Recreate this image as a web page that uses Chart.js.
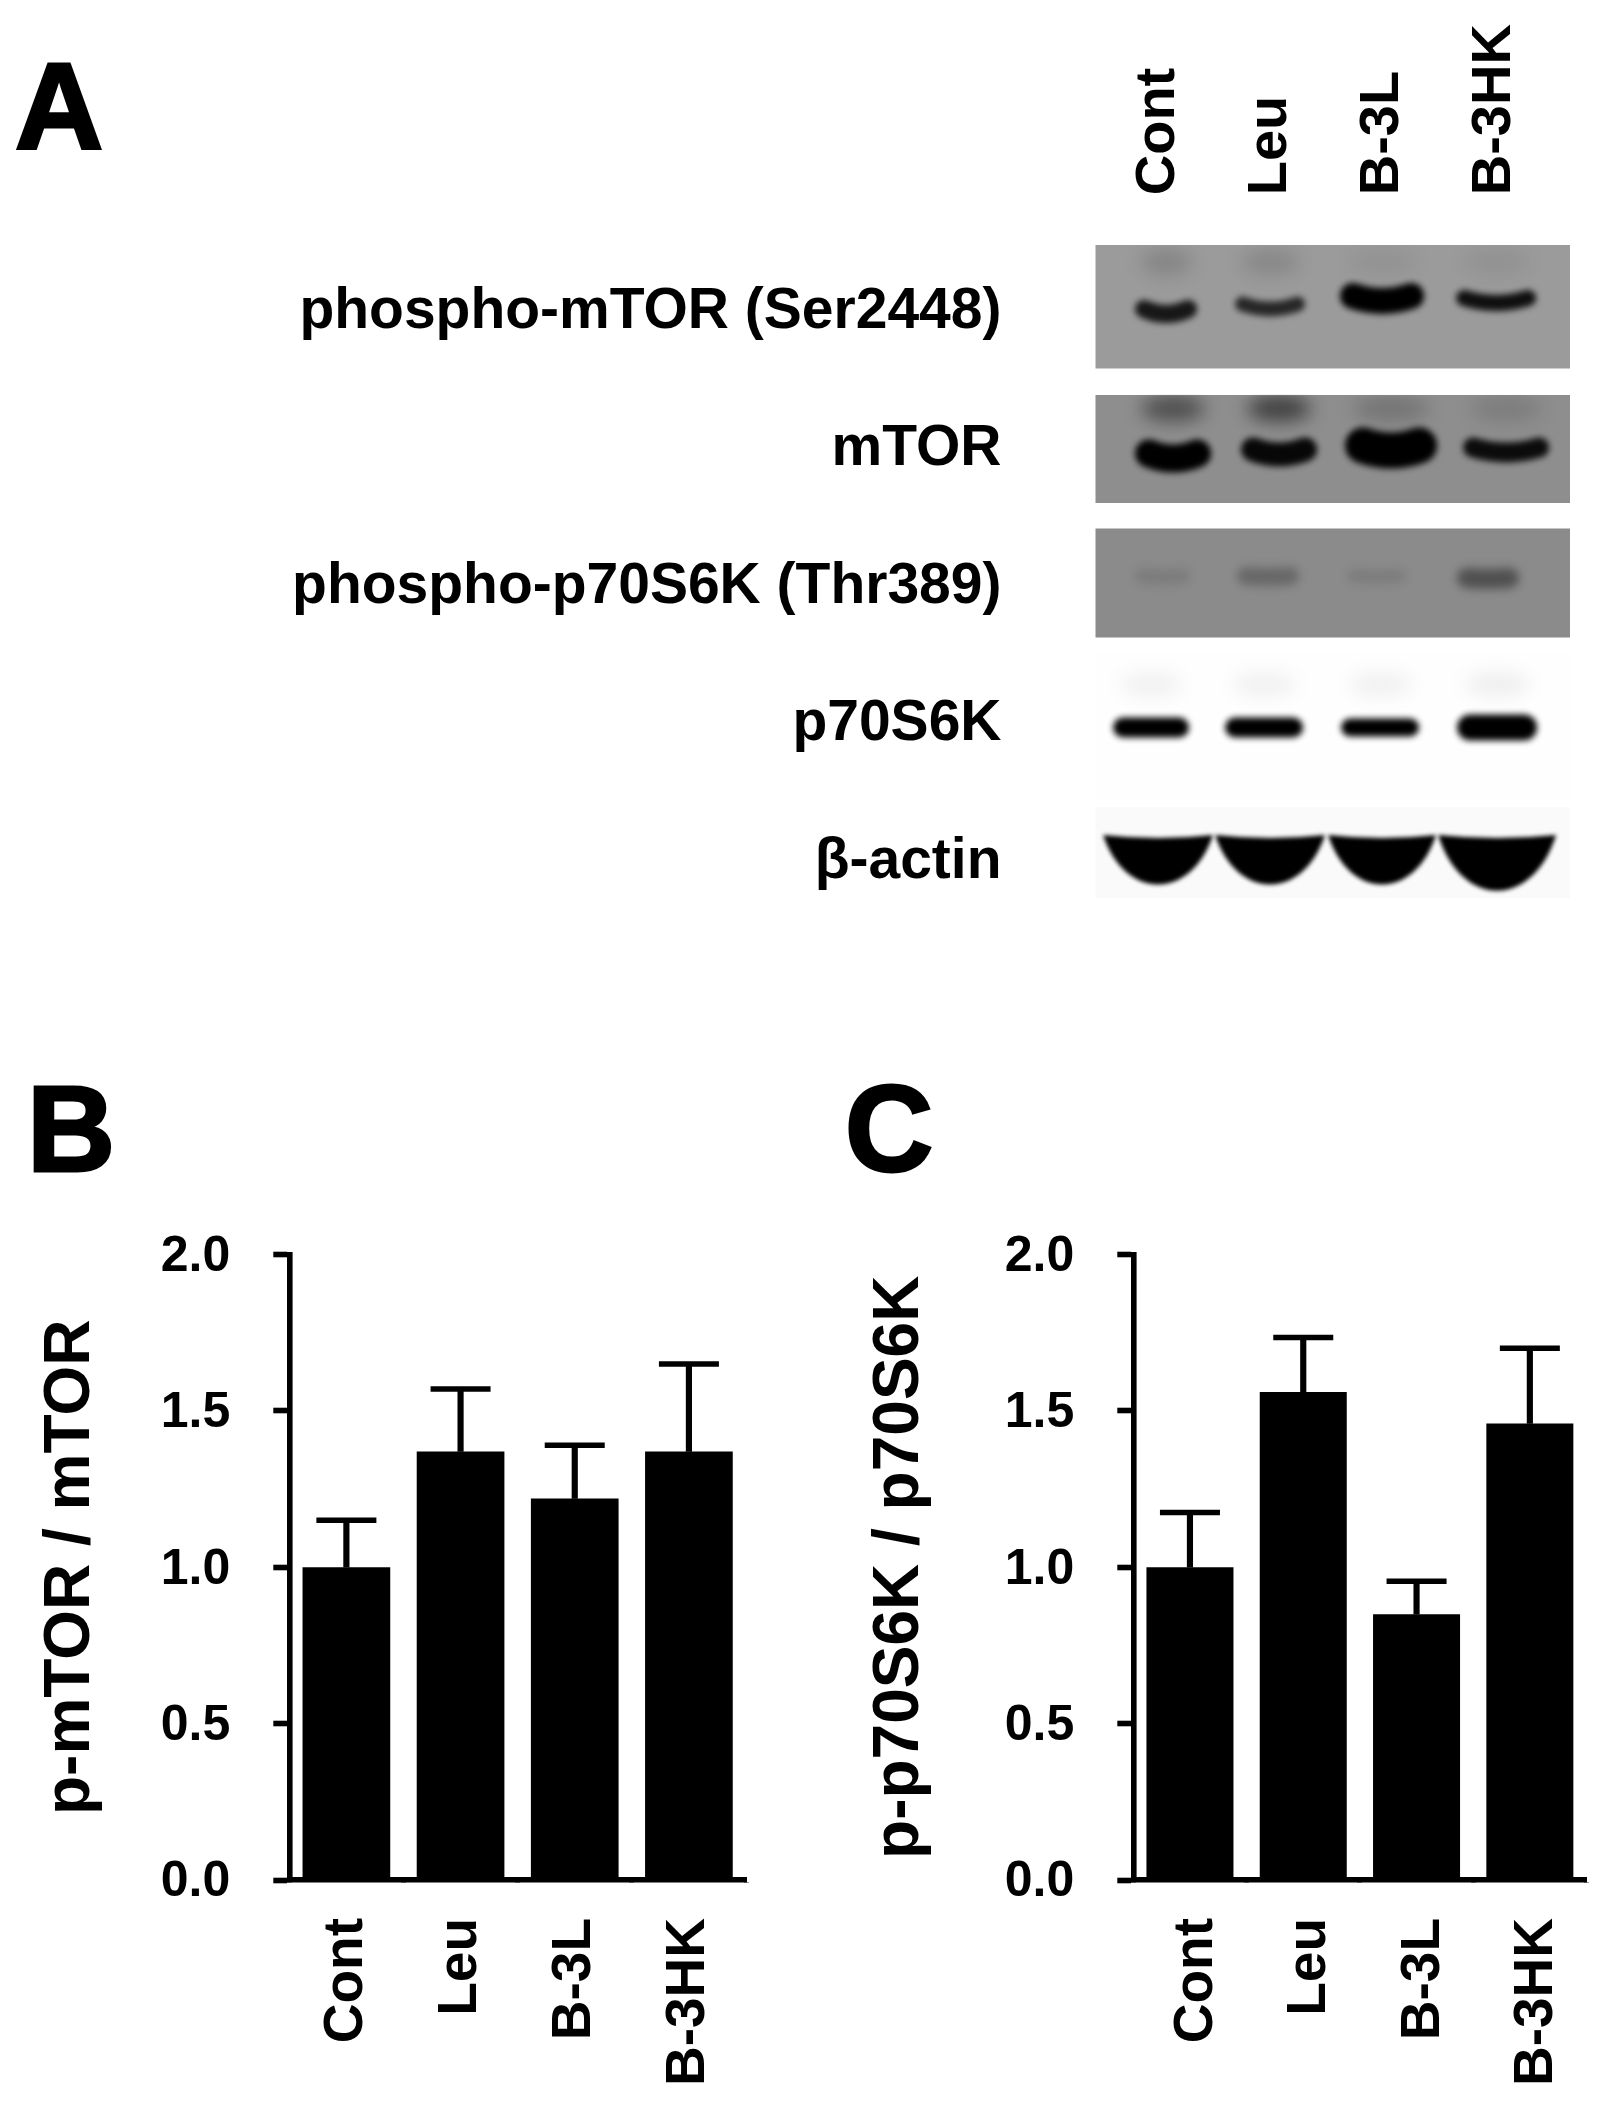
<!DOCTYPE html>
<html>
<head>
<meta charset="utf-8">
<title>Western blot and densitometry</title>
<script src="https://cdn.jsdelivr.net/npm/chart.js@4"></script>
<style>
  body { margin: 0; background: #fff; width: 1622px; height: 2110px; position: relative; overflow: hidden; }
  canvas { position: absolute; }
  .letter {
    position: absolute; font: bold 122px/1 "Liberation Sans", Arial, sans-serif;
    color: #000; -webkit-text-stroke: 3px #000;
  }
</style>
</head>
<body>
<div class="letter" style="left:15px;top:46px">A</div>
<div class="letter" style="left:27px;top:1068px">B</div>
<div class="letter" style="left:845px;top:1068px">C</div>
<canvas id="blotChart" width="1622" height="1000" style="left:0;top:0"></canvas>
<canvas id="mtorChart" width="790" height="930" style="left:0;top:1180px"></canvas>
<canvas id="s6kChart" width="822" height="930" style="left:800px;top:1180px"></canvas>
<script>
'use strict';

const groups = ['Cont', 'Leu', 'B-3L', 'B-3HK'];
const proteins = ['phospho-mTOR (Ser2448)', 'mTOR', 'phospho-p70S6K (Thr389)', 'p70S6K', 'β-actin'];
const yTicks = [0, 0.5, 1, 1.5, 2];

// panel B
const mtorMeans = [1.0, 1.37, 1.22, 1.37];
const mtorTops = [1.15, 1.57, 1.39, 1.65];
// panel C
const s6kMeans = [1.0, 1.56, 0.85, 1.46];
const s6kTops = [1.175, 1.735, 0.955, 1.70];

// panel A, how dark each band looks, one list per protein
const bandPmtor = [0.85, 0.75, 1, 0.9];
const bandMtor = [1, 0.95, 1, 0.92];
const bandPs6k = [0.1, 0.25, 0.1, 0.42];
const bandS6k = [1, 1, 1, 1];
const bandActin = [1, 1, 1, 1];
const bandStrength = [bandPmtor, bandMtor, bandPs6k, bandS6k, bandActin];
// faint second band above the main one
const ghostPmtor = [0.14, 0.12, 0.05, 0.06];
const ghostMtor = [0.45, 0.55, 0.18, 0.12];
const ghostPs6k = [0, 0, 0, 0];
const ghostS6k = [0.05, 0.05, 0.05, 0.06];
const ghostActin = [0, 0, 0, 0];
const ghostStrength = [ghostPmtor, ghostMtor, ghostPs6k, ghostS6k, ghostActin];

const FONT = '"Liberation Sans", Arial, sans-serif';

// looks of the blot strips, offsets are pixels from the row centre
const rowLook = [
  { top: -67, bottom: 56.5, bg: '#9b9b9b', width: [62, 70, 84, 80], shift: [6, -2, -2, 0], dy: [2, -3, -11, -9], t: [18, 15, 26, 16], sag: 5, blur: 3, ghostY: -50 },
  { top: -54.5, bottom: 53.5, bg: '#8e8e8e', width: [76, 76, 92, 86], shift: [13, 7, 7, 10], dy: [9, 5, 1, 3], t: [28, 24, 36, 20], sag: 5, blur: 3, ghostY: -41 },
  { top: -58.5, bottom: 50.5, bg: '#8b8b8b', width: [56, 62, 60, 62], shift: [2, -4, -8, -8], dy: [-10, -10, -10, -8], t: [16, 18, 14, 20], sag: 1, blur: 5, ghostY: 0 },
  { top: -70, bottom: 75, bg: '#fefefe', width: [76, 78, 78, 80], shift: [-9, -8, -4, 1], dy: [3, 3, 3, 3], t: [20, 20, 18, 26], sag: 0, blur: 3, ghostY: -40 },
  { top: -55, bottom: 36, bg: '#fafafa', width: [110, 110, 108, 118], shift: [-2, -2, -2, 1], dy: [-24, -24, -24, -24], t: [60, 60, 60, 68], sag: 3, blur: 2, ghostY: 0, lens: true }
];

// one picture per band, centred on its point, the chart places it
function makeBand(row, lane) {
  const look = rowLook[row];
  const canvas = document.createElement('canvas');
  canvas.width = 240;
  canvas.height = 200;
  const ctx = canvas.getContext('2d');
  const cx = 120 + look.shift[lane];
  const cy = 100;
  ctx.beginPath();
  ctx.rect(0, cy + look.top, 240, look.bottom - look.top);
  ctx.clip();

  ctx.filter = 'blur(9px)';
  ctx.fillStyle = `rgba(0,0,0,${ghostStrength[row][lane]})`;
  ctx.beginPath();
  ctx.ellipse(cx, cy + look.ghostY, look.width[lane] * 0.42, 13, 0, 0, Math.PI * 2);
  if (ghostStrength[row][lane] > 0) ctx.fill();

  const w = look.width[lane] / 2;
  const y = cy + look.dy[lane];
  const t = look.t[lane];
  const colour = `rgba(0,0,0,${bandStrength[row][lane]})`;
  ctx.filter = `blur(${look.blur}px)`;
  ctx.beginPath();
  if (look.lens) {
    // actin bands are flat on top with a round belly
    ctx.fillStyle = colour;
    ctx.moveTo(cx - w, y - look.sag);
    ctx.quadraticCurveTo(cx, y + look.sag, cx + w, y - look.sag);
    ctx.bezierCurveTo(cx + w * 0.6, y + t * 1.05, cx - w * 0.6, y + t * 1.05, cx - w, y - look.sag);
    ctx.fill();
  } else {
    ctx.strokeStyle = colour;
    ctx.lineWidth = t;
    ctx.lineCap = 'round';
    ctx.moveTo(cx - w + t / 2, y - look.sag);
    ctx.quadraticCurveTo(cx, y + look.sag, cx + w - t / 2, y - look.sag);
    ctx.stroke();
  }
  return canvas;
}

const blotPoints = [];
proteins.forEach((name, row) => {
  groups.forEach((g, lane) => {
    blotPoints.push({ x: lane, y: name, band: makeBand(row, lane) });
  });
});

const stripPlugin = {
  id: 'strips',
  beforeDatasetsDraw(chart) {
    const { ctx, chartArea, scales } = chart;
    rowLook.forEach((look, row) => {
      const cy = scales.y.getPixelForValue(row);
      ctx.fillStyle = look.bg;
      ctx.fillRect(chartArea.left, cy + look.top, chartArea.right - chartArea.left, look.bottom - look.top);
    });
  }
};

new Chart(document.getElementById('blotChart'), {
  type: 'scatter',
  data: {
    datasets: [{
      data: blotPoints,
      pointStyle: (c) => (c.raw ? c.raw.band : 'circle'),
      pointRadius: 1,
      clip: false
    }]
  },
  plugins: [stripPlugin],
  options: {
    responsive: false,
    animation: false,
    devicePixelRatio: 1,
    layout: { padding: { right: 52, bottom: 69.25 } },
    plugins: { legend: { display: false }, tooltip: { enabled: false } },
    scales: {
      x: {
        type: 'linear',
        position: 'top',
        min: -0.576,
        max: 3.66,
        afterFit(scale) {
          scale.height = 243.25;
          scale.paddingLeft = 0;
          scale.paddingRight = 0;
        },
        afterBuildTicks(scale) { scale.ticks = groups.map((g, i) => ({ value: i })); },
        grid: { display: false },
        border: { display: false },
        ticks: {
          callback: (v) => groups[v],
          autoSkip: false,
          minRotation: 90,
          maxRotation: 90,
          padding: 40,
          labelOffset: 66,
          color: '#000',
          font: { family: FONT, size: 56, weight: 'bold' }
        }
      },
      y: {
        type: 'category',
        labels: proteins,
        offset: true,
        afterFit(scale) {
          scale.width = 1095.5;
          scale.paddingTop = 0;
          scale.paddingBottom = 0;
        },
        grid: { display: false },
        border: { display: false },
        ticks: { padding: 86, color: '#000', font: { family: FONT, size: 57, weight: 'bold' } }
      }
    }
  }
});

function drawBars(id, means, tops, yTitle, areaLeft, padRight, titlePad, labelShift) {
  return new Chart(document.getElementById(id), {
    type: 'bar',
    data: {
      labels: groups,
      datasets: [
        {
          type: 'line',
          data: tops,
          showLine: false,
          pointStyle: 'line',
          pointRadius: 30,
          pointBorderWidth: 5.5,
          pointBorderColor: '#000',
          clip: false
        },
        {
          data: tops.map((t, i) => [means[i], t]),
          backgroundColor: '#000',
          grouped: false,
          barThickness: 5.5
        },
        {
          data: means,
          backgroundColor: '#000',
          grouped: false,
          barPercentage: 0.768,
          categoryPercentage: 1
        }
      ]
    },
    options: {
      responsive: false,
      animation: false,
      devicePixelRatio: 1,
      layout: { padding: { top: 74.5, right: padRight } },
      plugins: { legend: { display: false }, tooltip: { enabled: false } },
      scales: {
        x: {
          afterFit(scale) {
            scale.height = 230;
            scale.paddingLeft = 0;
            scale.paddingRight = 0;
          },
          border: { color: '#000', width: 5.6 },
          grid: { drawOnChartArea: false, offset: true, tickLength: 3, tickWidth: 5, tickColor: '#000' },
          ticks: {
            autoSkip: false,
            minRotation: 90,
            maxRotation: 90,
            padding: 35,
            labelOffset: labelShift,
            color: '#000',
            font: { family: FONT, size: 55, weight: 'bold' }
          }
        },
        y: {
          min: 0,
          max: 2,
          afterFit(scale) { scale.width = areaLeft; },
          afterBuildTicks(scale) { scale.ticks = yTicks.map((v) => ({ value: v })); },
          border: { color: '#000', width: 5.6 },
          grid: { drawOnChartArea: false, tickLength: 16, tickWidth: 5.6, tickColor: '#000' },
          title: {
            display: true,
            text: yTitle,
            color: '#000',
            padding: { top: titlePad, bottom: 0 },
            font: { family: FONT, size: 64, weight: 'bold' }
          },
          ticks: {
            callback: (v) => v.toFixed(1),
            padding: 43,
            labelOffset: 2.5,
            color: '#000',
            font: { family: FONT, size: 50, weight: 'bold' }
          }
        }
      }
    }
  });
}

drawBars('mtorChart', mtorMeans, mtorTops, 'p-mTOR / mTOR', 289.3, 44, 33, 0);
drawBars('s6kChart', s6kMeans, s6kTops, 'p-p70S6K / p70S6K', 333.3, 33.5, 62, 7);
</script>
</body>
</html>
